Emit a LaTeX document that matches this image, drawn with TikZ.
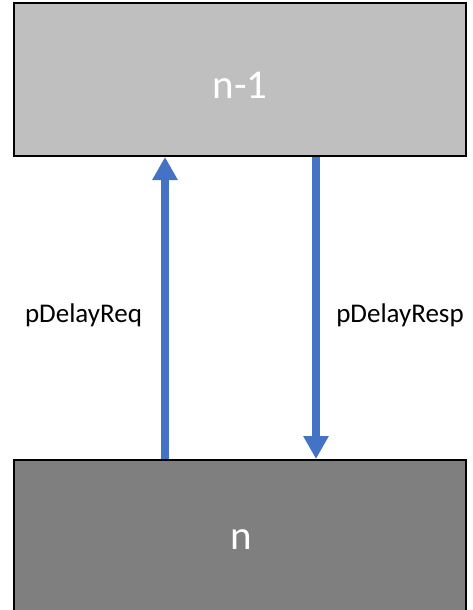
\documentclass[tikz,border=0pt]{standalone}
\usepackage{fontspec}
\setmainfont{Carlito}
\usetikzlibrary{arrows.meta}
\definecolor{hoplight}{HTML}{BFBFBF}
\definecolor{hopdark}{HTML}{7F7F7F}
\definecolor{msgblue}{HTML}{4472C4}
\begin{document}
\begin{tikzpicture}[x=1pt,y=-1pt,
    hop/.style={rectangle,draw=black,line width=2pt,minimum width=452pt,minimum height=153pt,inner sep=0pt},
    hoptext/.style={text=white,inner sep=0pt,font=\fontsize{41}{49}\selectfont},
    msg/.style={draw=msgblue,line width=8pt,-{Triangle[length=23pt,width=24pt]}},
    msglabel/.style={anchor=base,inner sep=0pt,font=\fontsize{27}{32}\selectfont}]
        \useasboundingbox (0,0) rectangle (473,610);
        \coordinate(reqx)at(165,0);\coordinate(respx)at(316,0);
        \node[hop,fill=hoplight] (prev) at (240,79.5) {};
        \node[hop,fill=hopdark] (cur) at (240,536.5) {};
        \node[hoptext] (prevname) at (240,85.5) {n-1};
        \node[hoptext] (curname) at (241,540) {n};
        \draw[msg] (cur.north -| reqx) -- (prev.south -| reqx);
        \draw[msg] (prev.south -| respx) -- (cur.north -| respx);
        \node[msglabel] (req) at (83.5,322) {pDelayReq};
        \node[msglabel] (resp) at (400,322) {pDelayResp};
      \end{tikzpicture}
\end{document}
